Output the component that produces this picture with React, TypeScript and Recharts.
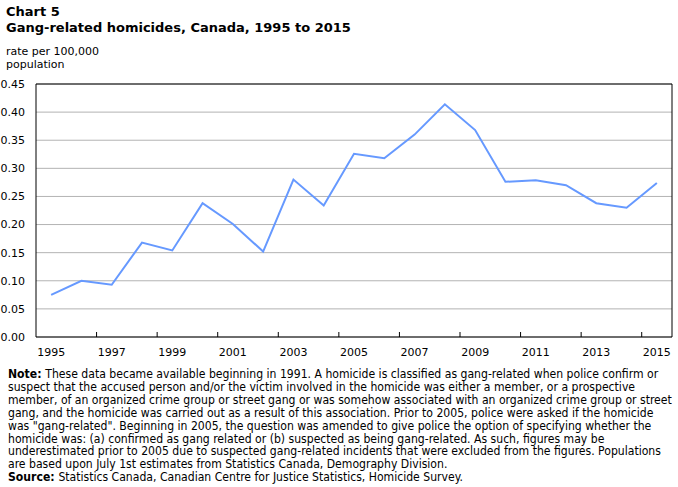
import { LineChart, Line, XAxis, YAxis, CartesianGrid, ReferenceLine } from 'recharts';

// rate of gang-related homicides per 100,000 population
const years = [
    1995, 1996, 1997, 1998, 1999, 2000, 2001, 2002, 2003, 2004, 2005,
    2006, 2007, 2008, 2009, 2010, 2011, 2012, 2013, 2014, 2015,
];
const rates = [
    0.075, 0.100, 0.093, 0.168, 0.154, 0.238, 0.201, 0.152, 0.280, 0.234, 0.326,
    0.318, 0.360, 0.414, 0.368, 0.276, 0.279, 0.270, 0.238, 0.230, 0.274,
];
const yearLabels = [1995, 1997, 1999, 2001, 2003, 2005, 2007, 2009, 2011, 2013, 2015];
const rateTicks = [0, 0.05, 0.1, 0.15, 0.2, 0.25, 0.3, 0.35, 0.4, 0.45];

const noteLines = [
    'These data became available beginning in 1991. A homicide is classified as gang-related when police confirm or',
    'suspect that the accused person and/or the victim involved in the homicide was either a member, or a prospective',
    'member, of an organized crime group or street gang or was somehow associated with an organized crime group or street',
    'gang, and the homicide was carried out as a result of this association. Prior to 2005, police were asked if the homicide',
    'was "gang-related". Beginning in 2005, the question was amended to give police the option of specifying whether the',
    'homicide was: (a) confirmed as gang related or (b) suspected as being gang-related. As such, figures may be',
    'underestimated prior to 2005 due to suspected gang-related incidents that were excluded from the figures. Populations',
    'are based upon July 1st estimates from Statistics Canada, Demography Division.',
];
const sourceText = 'Statistics Canada, Canadian Centre for Justice Statistics, Homicide Survey.';

const chartData = years.map((year, i) => ({ year, rate: rates[i] }));
// small tick marks sit between the years
const boundaries = years.slice(1).map(y => y - 0.5);
const domainX: [number, number] = [years[0] - 0.5, years[years.length - 1] + 0.5];

const FONT = '"DejaVu Sans", Verdana, sans-serif';

export default function App() {
    return (
        <div style={{ position: 'absolute', left: 0, top: 0, width: 678, height: 487, background: '#fff', fontFamily: FONT, color: '#000' }}>
            <div style={{ position: 'absolute', left: 6, top: 4, fontSize: 13, fontWeight: 'bold', lineHeight: '16px' }}>
                Chart 5<br />Gang-related homicides, Canada, 1995 to 2015
            </div>
            <div style={{ position: 'absolute', left: 6, top: 45, fontSize: 11, lineHeight: '13px' }}>
                rate per 100,000<br />population
            </div>

            <div style={{ position: 'absolute', left: 0, top: 0 }}>
                <LineChart width={678} height={370} data={chartData} margin={{ top: 84, right: 6, bottom: 0, left: 0 }}>
                    <CartesianGrid vertical={false} stroke="#b3b3b3" />
                    <XAxis xAxisId="marks" dataKey="year" type="number" domain={domainX} allowDataOverflow
                        ticks={boundaries} tick={() => <g />} mirror tickSize={5} height={1}
                        axisLine={{ stroke: '#000' }} tickLine={{ stroke: '#000' }} />
                    <XAxis xAxisId="yr" dataKey="year" type="number" domain={domainX} allowDataOverflow
                        ticks={yearLabels} interval={0} height={33} axisLine={false} tickLine={false}
                        tickSize={0} tickMargin={11}
                        tick={{ fontSize: 11, fill: '#000', fontFamily: FONT }} />
                    <YAxis domain={[0, 0.45]} ticks={rateTicks} width={36} tickSize={0} tickMargin={11}
                        tickFormatter={(v: number) => v.toFixed(2)}
                        axisLine={{ stroke: '#000' }}
                        tick={{ fontSize: 11, fill: '#000', fontFamily: FONT }} />
                    <ReferenceLine xAxisId="yr" y={0.45} stroke="#000" />
                    <ReferenceLine xAxisId="yr" x={domainX[1]} stroke="#000" />
                    <Line xAxisId="yr" dataKey="rate" stroke="#6699ff" strokeWidth={2} dot={false} isAnimationActive={false} />
                </LineChart>
            </div>

            <div style={{ position: 'absolute', left: 8, top: 368, width: 670, fontFamily: '"DejaVu Sans Condensed", sans-serif', fontSize: 12.1, lineHeight: '12.9px', whiteSpace: 'nowrap' }}>
                {noteLines.map((line, i) => (
                    <div key={i}>
                        {i === 0 && <b>Note: </b>}
                        {line}
                    </div>
                ))}
                <div><b>Source: </b>{sourceText}</div>
            </div>
        </div>
    );
}
